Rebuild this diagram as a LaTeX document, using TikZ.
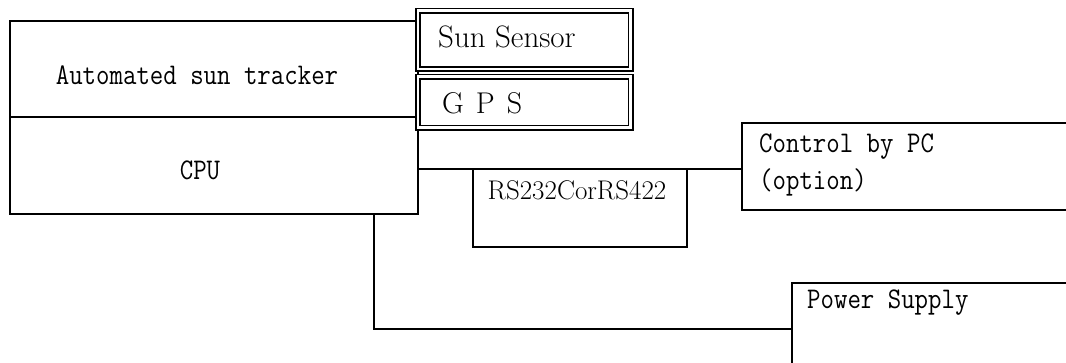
\documentclass[tikz,border=0pt]{standalone}
\usepackage{fontspec}
\usepackage{graphicx}
\newcommand\monotxt[1]{\scalebox{0.87}[1]{\fontsize{30}{34}\selectfont\ttfamily #1}}
\newcommand\sertxt[2]{{\fontsize{#1}{#1}\selectfont #2}}
\begin{document}
\begin{tikzpicture}[x=1pt,y=-1pt,
  box/.style={draw,line width=1.3pt,inner sep=0pt},
  dbox/.style={draw,line width=1.6pt,double,double distance=2.8pt,inner sep=0pt},
  wire/.style={line width=1.3pt},
  txt/.style={inner sep=0pt}]
\useasboundingbox (0,0) rectangle (1066,362);
% boxes
\node[box,minimum width=408pt,minimum height=96pt] (tracker) at (214,69) {};
\node[box,minimum width=408pt,minimum height=97pt] (cpu) at (214,165.5) {};
\node[dbox,minimum width=212.5pt,minimum height=58.5pt] (sun) at (524.25,39.75) {};
\node[dbox,minimum width=212.5pt,minimum height=51pt] (gps) at (524.25,102) {};
\node[box,minimum width=214pt,minimum height=78pt] (rs) at (580,208) {};
\node[box,minimum width=348pt,minimum height=87pt] (ctrl) at (916,166.5) {};
\node[box,minimum width=308pt,minimum height=107pt] (power) at (946,336.5) {};
% texts
\node[txt] (trackertxt) at (197,75) {\monotxt{Automated sun tracker}};
\node[txt] (cputxt) at (200,170) {\monotxt{CPU}};
\node[txt,anchor=west] (suntxt) at (438,37) {\sertxt{31}{Sun Sensor}};
\node[txt,anchor=west] (gpstxt) at (442,103) {\sertxt{30}{G\hspace{12pt}P\hspace{12pt}S}};
\node[txt] (rstxt) at (577,190) {\sertxt{27}{RS232CorRS422}};
\node[txt,anchor=west] (ctrltxt1) at (759,147) {\monotxt{Control by PC}};
\node[txt,anchor=west] (ctrltxt2) at (759,182) {\monotxt{(option)}};
\node[txt,anchor=west] (powertxt) at (807,303) {\monotxt{Power Supply}};
% wires
\draw[wire] ([yshift=-3.5pt]cpu.east) coordinate (a) -- (a -| ctrl.west);
\draw[wire] ([xshift=160pt]cpu.south) |- ([yshift=7.5pt]power.west);
\end{tikzpicture}
\end{document}
